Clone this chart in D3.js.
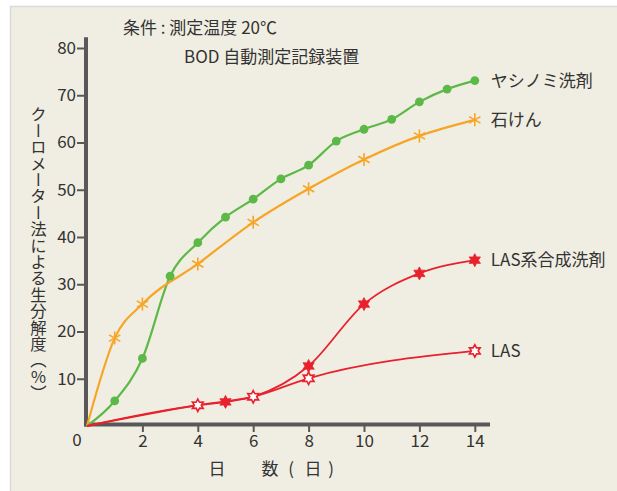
<!DOCTYPE html>
<html>
<head>
<meta charset="utf-8">
<script src="https://cdn.jsdelivr.net/npm/d3@7"></script>
<style>
  html, body { margin: 0; padding: 0; background: #ffffff; }
  svg { display: block; }
  text { font-family: "Noto Sans CJK JP", "Noto Sans", sans-serif; fill: #333333; }
</style>
</head>
<body>
<svg id="chart" width="617" height="491"></svg>
<script>
  // days on the x axis
  const yashinomiDays = [0, 1, 2, 3, 4, 5, 6, 7, 8, 9, 10, 11, 12, 13, 14];
  const yashinomiValues = [0, 5.3, 14.3, 31.7, 38.8, 44.2, 48.0, 52.3, 55.2, 60.3, 62.8, 64.9, 68.6, 71.3, 73.1];

  const soapDays = [0, 1, 2, 4, 6, 8, 10, 12, 14];
  const soapValues = [0, 18.6, 25.8, 34.3, 43.1, 50.2, 56.4, 61.4, 64.8];

  // LAS系合成洗剤 follows the LAS line up to day 6, markers only on its own days
  const lasDetergentDays = [0, 4, 5, 6, 8, 10, 12, 14];
  const lasDetergentValues = [0, 4.4, 5.1, 6.2, 12.7, 25.8, 32.3, 35.1];
  const lasDetergentMarkerDays = [5, 8, 10, 12, 14];

  const lasDays = [0, 4, 6, 8, 14];
  const lasValues = [0, 4.4, 6.2, 10.1, 15.9];

  const seriesNames = ["ヤシノミ洗剤", "石けん", "LAS系合成洗剤", "LAS"];
  const xTicks = [2, 4, 6, 8, 10, 12, 14];
  const yTicks = [10, 20, 30, 40, 50, 60, 70, 80];

  const titleLines = ["条件 : 測定温度 20℃", "BOD 自動測定記録装置"];
  const yLabel = "クーロメーター法による生分解度（％）";
  const xLabelParts = ["日", "数", "(", "日", ")"];

  const svg = d3.select("#chart");

  // beige panel
  svg.append("rect")
    .attr("x", 10.5).attr("y", 6.5)
    .attr("width", 640).attr("height", 500)
    .attr("fill", "#f0eee2")
    .attr("stroke", "#d9d9d9")
    .attr("stroke-width", 1.5);

  const x = d3.scaleLinear().domain([0, 14]).range([87, 474.8]);
  const y = d3.scaleLinear().domain([0, 80]).range([426, 48]);

  const axisColor = "#58585a";

  // y ticks + labels
  const yAxisG = svg.append("g")
    .attr("transform", "translate(84,0)")
    .call(d3.axisLeft(y).tickValues(yTicks).tickSize(7).tickPadding(1).tickSizeOuter(0));
  yAxisG.select(".domain").remove();
  yAxisG.selectAll(".tick line").attr("stroke", axisColor).attr("stroke-width", 2);
  yAxisG.selectAll(".tick text")
    .attr("font-family", '"Noto Sans CJK JP", sans-serif')
    .attr("font-size", 17)
    .attr("fill", "#333");

  // x ticks + labels
  const xAxisG = svg.append("g")
    .attr("transform", "translate(0,426)")
    .call(d3.axisBottom(x).tickValues(xTicks).tickSize(6).tickPadding(3).tickSizeOuter(0));
  xAxisG.select(".domain").remove();
  xAxisG.selectAll(".tick line").attr("stroke", axisColor).attr("stroke-width", 2);
  xAxisG.selectAll(".tick text")
    .attr("font-family", '"Noto Sans CJK JP", sans-serif')
    .attr("font-size", 17)
    .attr("fill", "#333");

  svg.append("text")
    .attr("x", 77).attr("y", 446)
    .attr("text-anchor", "middle")
    .attr("font-size", 17)
    .text("0");

  // thick axis lines
  svg.append("line")
    .attr("x1", x(0) - 1).attr("x2", x(0) - 1)
    .attr("y1", y(82.3)).attr("y2", y(0) + 0.5)
    .attr("stroke", axisColor).attr("stroke-width", 4);
  svg.append("line")
    .attr("x1", x(0) - 3).attr("x2", x(14.55))
    .attr("y1", y(0) - 1.5).attr("y2", y(0) - 1.5)
    .attr("stroke", axisColor).attr("stroke-width", 4);

  // titles
  svg.append("text").attr("x", 123).attr("y", 34).attr("font-size", 17).text(titleLines[0]);
  svg.append("text").attr("x", 184).attr("y", 63).attr("font-size", 17).text(titleLines[1]);

  // axis labels
  svg.append("text")
    .attr("x", 38.5).attr("y", 106)
    .attr("writing-mode", "vertical-rl")
    .attr("font-size", 16.4)
    .text(yLabel);

  const xLabelPos = [217, 270, 291, 313, 331];
  svg.append("g").selectAll("text")
    .data(xLabelParts)
    .join("text")
    .attr("x", (d, i) => xLabelPos[i])
    .attr("y", 475)
    .attr("text-anchor", "middle")
    .attr("font-size", 17)
    .text((d) => d);

  const line = d3.line()
    .x((d) => x(d.day))
    .y((d) => y(d.value))
    .curve(d3.curveMonotoneX);

  function zip(days, values) {
    return days.map((day, i) => ({ day, value: values[i] }));
  }

  const green = "#5cb947";
  const orange = "#f6a526";
  const red = "#e8212d";

  const lasDetergent = zip(lasDetergentDays, lasDetergentValues);

  const series = [
    { name: seriesNames[0], data: zip(yashinomiDays, yashinomiValues), color: green, marker: "dot", width: 2.2 },
    { name: seriesNames[1], data: zip(soapDays, soapValues), color: orange, marker: "asterisk", width: 2.2 },
    {
      name: seriesNames[2], data: lasDetergent, color: red, marker: "star", width: 1.8,
      markers: lasDetergent.filter((d) => lasDetergentMarkerDays.includes(d.day)),
    },
    { name: seriesNames[3], data: zip(lasDays, lasValues), color: red, marker: "hollowStar", width: 1.8 },
  ];

  series.forEach((s) => {
    svg.append("path")
      .datum(s.data)
      .attr("fill", "none")
      .attr("stroke", s.color)
      .attr("stroke-width", s.width)
      .attr("d", line);
  });

  // six-point star path
  function starPath(r) {
    const pts = [];
    for (let k = 0; k < 12; k += 1) {
      const a = (Math.PI / 6) * k - Math.PI / 2;
      const rr = k % 2 === 0 ? r : r * 0.55;
      pts.push([rr * Math.cos(a), rr * Math.sin(a)]);
    }
    return "M" + pts.map((p) => p.join(",")).join("L") + "Z";
  }

  function asteriskPath(r) {
    let p = "";
    for (let k = 0; k < 3; k += 1) {
      const a = (Math.PI / 3) * k - Math.PI / 2;
      p += `M${-r * Math.cos(a)},${-r * Math.sin(a)}L${r * Math.cos(a)},${r * Math.sin(a)}`;
    }
    return p;
  }

  // draw hollow LAS markers first so filled ones sit on top
  const drawOrder = [3, 0, 1, 2];
  drawOrder.forEach((idx) => {
    const s = series[idx];
    const pts = s.markers || s.data.filter((d) => d.day > 0);
    const g = svg.append("g");
    if (s.marker === "dot") {
      g.selectAll("circle").data(pts).join("circle")
        .attr("cx", (d) => x(d.day)).attr("cy", (d) => y(d.value))
        .attr("r", 4.4).attr("fill", s.color);
    } else if (s.marker === "asterisk") {
      g.selectAll("path").data(pts).join("path")
        .attr("transform", (d) => `translate(${x(d.day)},${y(d.value)})`)
        .attr("d", asteriskPath(6.5))
        .attr("stroke", s.color).attr("stroke-width", 1.6).attr("fill", "none");
    } else if (s.marker === "star") {
      g.selectAll("path").data(pts).join("path")
        .attr("transform", (d) => `translate(${x(d.day)},${y(d.value)})`)
        .attr("d", starPath(6.5))
        .attr("fill", s.color).attr("stroke", s.color).attr("stroke-width", 0.8);
    } else {
      g.selectAll("path").data(pts).join("path")
        .attr("transform", (d) => `translate(${x(d.day)},${y(d.value)})`)
        .attr("d", starPath(6.2))
        .attr("fill", "#ffffff").attr("stroke", s.color).attr("stroke-width", 1.6);
    }
  });

  series.forEach((s) => {
    const last = s.data[s.data.length - 1];
    svg.append("text")
      .attr("x", x(14) + 16)
      .attr("y", y(last.value))
      .attr("dy", "0.35em")
      .attr("font-size", 17)
      .text(s.name);
  });
</script>
</body>
</html>
